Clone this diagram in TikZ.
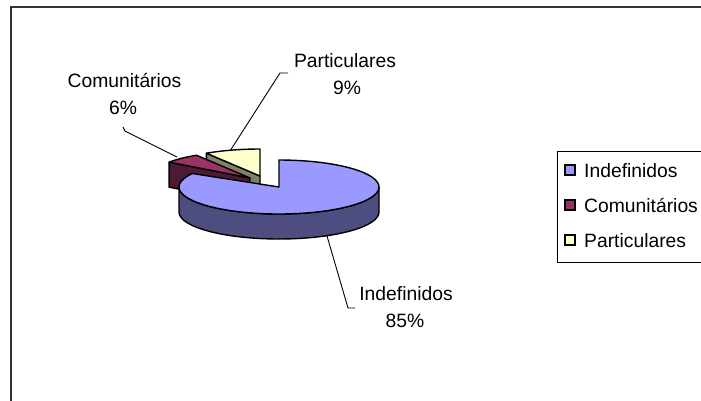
\documentclass[tikz,border=0pt]{standalone}
\usepackage{fontspec}
\setmainfont{Liberation Sans}
\usetikzlibrary{calc}
\definecolor{bluetop}{HTML}{9999FF}
\definecolor{blueside}{HTML}{4D4D80}
\definecolor{martop}{HTML}{993366}
\definecolor{marside}{HTML}{4D1A33}
\definecolor{yeltop}{HTML}{FFFFCC}
\definecolor{yelside}{HTML}{808066}
\begin{document}
\begin{tikzpicture}[x=1pt,y=-1pt,
  face/.style={draw=black,line width=1.4pt,line join=round},
  lbl/.style={font=\fontsize{19.3}{22}\selectfont,inner sep=0pt,anchor=base},
  leader/.style={draw=black,line width=0.9pt},
  legsq/.style={draw=black,line width=1.2pt,minimum size=10pt,inner sep=0pt},
  legtxt/.style={font=\fontsize{19.3}{22}\selectfont,inner sep=0pt,anchor=base west}]
\useasboundingbox (0,0) rectangle (701,400);
\fill[white] (0,0) rectangle (701,400);
\draw[black!80,line width=1.3pt] (11,420) -- (11,7) -- (720,7);

% Particulares (yellow)
\coordinate (cy) at (260,176);
\coordinate (cyA) at ($(cy)+(-90:100 and 27)$);
\coordinate (cyB) at ($(cy)+(-122.4:100 and 27)$);
\filldraw[face,fill=yelside] (cy) -- (cyB) -- ++(0,25) -- ($(cy)+(0,25)$) -- cycle;
\filldraw[face,fill=yeltop] (cy) -- (cyA) arc[start angle=-90,end angle=-122.4,x radius=100,y radius=27] -- cycle;

% Comunitarios (maroon)
\coordinate (cm) at (250,178);
\coordinate (cmA) at ($(cm)+(-122.4:100 and 27)$);
\coordinate (cmB) at ($(cm)+(-144:100 and 27)$);
\filldraw[face,fill=marside] (cm) -- (cmB) -- ++(0,25) -- ($(cm)+(0,25)$) -- cycle;
\filldraw[face,fill=martop] (cm) -- (cmA) arc[start angle=-122.4,end angle=-144,x radius=100,y radius=27] -- cycle;

% Indefinidos (blue)
\coordinate (cb) at (279,187);
\coordinate (cbL) at ($(cb)+(-100,0)$);
\coordinate (cbA) at ($(cb)+(-150:100 and 27)$);
\filldraw[face,fill=blueside] (cbL) arc[start angle=180,end angle=0,x radius=100,y radius=27] -- ++(0,25) arc[start angle=0,end angle=180,x radius=100,y radius=27] -- cycle;
\filldraw[face,fill=bluetop] (cb) -- (cbA) arc[start angle=-150,end angle=-450,x radius=100,y radius=27] -- cycle;

% labels
\node[lbl] (lcom) at (124.5,87.5) {Comunitários};
\node[lbl] (lcomp) at (123,114) {6\%};
\node[lbl] (lpar) at (345,67) {Particulares};
\node[lbl] (lparp) at (347,94) {9\%};
\node[lbl] (lind) at (406,300) {Indefinidos};
\node[lbl] (lindp) at (405,327.5) {85\%};

% leaders
\coordinate (kcom0) at (123,127);
\coordinate (kcom1) at (125,131);
\coordinate (ecom) at (177,157);
\draw[leader] (kcom0) -- (kcom1) -- (ecom);
\coordinate (kpar0) at (288,73);
\coordinate (kpar1) at (280,73);
\coordinate (epar) at (230,151);
\draw[leader] (kpar0) -- (kpar1) -- (epar);
\coordinate (kind0) at (355,308);
\coordinate (kind1) at (348,308);
\coordinate (eind) at (327,236);
\draw[leader] (kind0) -- (kind1) -- (eind);

% legend
\draw[black,line width=1pt] (557,151) rectangle (720,262);
\node[legsq,fill=bluetop] (sq1) at (570,170) {};
\node[legtxt] (t1) at (584,177) {Indefinidos};
\node[legsq,fill=martop] (sq2) at (570,205) {};
\node[legtxt] (t2) at (584,212) {Comunitários};
\node[legsq,fill=yeltop] (sq3) at (570,240) {};
\node[legtxt] (t3) at (584,247) {Particulares};
\end{tikzpicture}
\end{document}
